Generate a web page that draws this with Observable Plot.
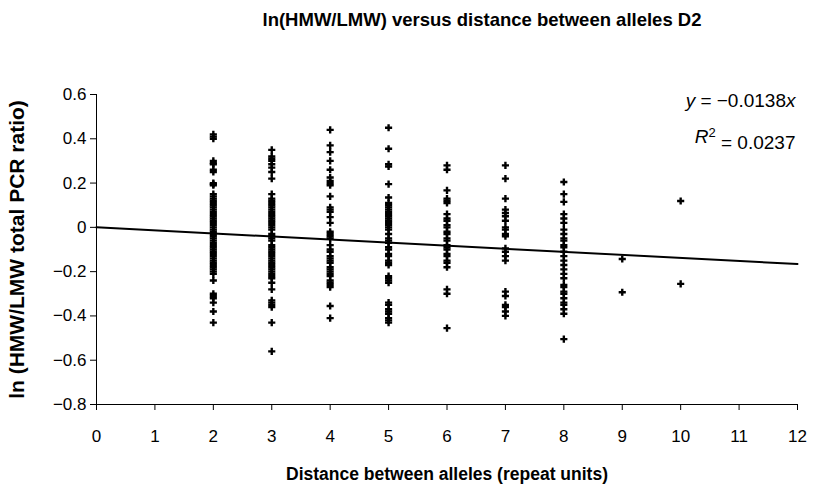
<!DOCTYPE html>
<html>
<head>
<meta charset="utf-8">
<script src="https://cdn.jsdelivr.net/npm/d3@7"></script>
<script src="https://cdn.jsdelivr.net/npm/@observablehq/plot@0.6"></script>
<style>
  body { margin: 0; background: #fff; }
  #chart svg { font-family: "Liberation Sans", Arial, sans-serif; }
  #chart g[aria-label="x-axis label"] text { font-weight: bold; font-size: 17.5px; }
  #chart g[aria-label="y-axis label"] text { font-weight: bold; font-size: 21px; }
  #chart svg text.chart-title { font-size: 18.5px; font-weight: bold; }
  #chart svg text.fit-label { font-size: 19px; }
</style>
</head>
<body>
<div id="chart"></div>
<script>
// ln(HMW/LMW) values grouped by distance between alleles (repeat units)
const dist2 = [0.42, 0.41, 0.40, 0.30, 0.29, 0.285, 0.26, 0.25, 0.20, 0.195, 0.19,
  0.15, 0.14, 0.13, 0.12, 0.11, 0.10, 0.09, 0.08, 0.07, 0.06, 0.05, 0.04, 0.03, 0.02, 0.01, 0.0,
  -0.01, -0.02, -0.03, -0.04, -0.05, -0.06, -0.07, -0.08, -0.09, -0.10, -0.11, -0.12, -0.13,
  -0.14, -0.15, -0.16, -0.17, -0.18, -0.19, -0.20, -0.21, -0.24,
  -0.30, -0.31, -0.32, -0.34, -0.38, -0.43];
const dist3 = [0.35, 0.32, 0.31, 0.30, 0.285, 0.27, 0.25, 0.22,
  0.15, 0.13, 0.12, 0.11, 0.10, 0.09, 0.08, 0.07, 0.06, 0.05, 0.04, 0.03, 0.02, 0.01, 0.0,
  -0.01, -0.03, -0.04, -0.05, -0.06, -0.08, -0.09, -0.10, -0.11, -0.12, -0.13, -0.14, -0.15,
  -0.16, -0.17, -0.18, -0.19, -0.20, -0.21, -0.22, -0.23, -0.25,
  -0.28, -0.33, -0.34, -0.35, -0.36, -0.43, -0.56];
const dist4 = [0.44, 0.37, 0.34, 0.30, 0.26, 0.225, 0.21, 0.20, 0.19, 0.14, 0.09, 0.08, 0.07,
  0.046, 0.02, -0.02, -0.03, -0.04, -0.05,
  -0.08, -0.10, -0.11, -0.13, -0.14, -0.15, -0.16, -0.18, -0.19, -0.20, -0.21, -0.22, -0.24,
  -0.25, -0.26, -0.27, -0.355, -0.41];
const dist5 = [0.45, 0.355, 0.285, 0.275, 0.195, 0.135,
  0.11, 0.10, 0.09, 0.08, 0.07, 0.06, 0.05, 0.04, 0.03, 0.02, 0.01, 0.0, -0.01,
  -0.03, -0.05, -0.06, -0.07, -0.09, -0.10, -0.12, -0.13, -0.15, -0.16, -0.17,
  -0.22, -0.23, -0.24, -0.25,
  -0.34, -0.35, -0.37, -0.38, -0.39, -0.41, -0.42, -0.43];
const dist6 = [0.28, 0.26, 0.167, 0.13, 0.12, 0.11,
  0.06, 0.04, 0.03, 0.01, 0.0, -0.02, -0.03, -0.05, -0.06, -0.08, -0.09, -0.10, -0.12,
  -0.13, -0.15, -0.16, -0.18, -0.28, -0.30, -0.455];
const dist7 = [0.28, 0.22, 0.13, 0.08, 0.065, 0.05, 0.03, 0.0, -0.01, -0.03, -0.04,
  -0.095, -0.11, -0.13, -0.15, -0.29, -0.31, -0.35, -0.36, -0.38, -0.40];
const dist8 = [0.205, 0.15, 0.115, 0.06, 0.04, 0.02,
  -0.01, -0.03, -0.05, -0.06, -0.08, -0.09, -0.11, -0.13, -0.15, -0.17, -0.19, -0.21, -0.23,
  -0.26, -0.27, -0.29, -0.30, -0.32, -0.34, -0.35, -0.37, -0.39, -0.505];
const dist9 = [-0.143, -0.293];
const dist10 = [0.119, -0.255];

const distances = [2, 3, 4, 5, 6, 7, 8, 9, 10];
const seriesByDistance = [dist2, dist3, dist4, dist5, dist6, dist7, dist8, dist9, dist10];

// Trend line through the origin and its fit statistics
const slope = -0.0138;
const rSquared = 0.0237;

const xTicks = [0, 1, 2, 3, 4, 5, 6, 7, 8, 9, 10, 11, 12];
const yTicks = [-0.8, -0.6, -0.4, -0.2, 0, 0.2, 0.4, 0.6];

const title = "ln(HMW/LMW) versus distance between alleles D2";
const xTitle = "Distance between alleles (repeat units)";
const yTitle = "ln (HMW/LMW total PCR ratio)";

const points = distances.flatMap((d, i) => seriesByDistance[i].map(v => ({d, v})));
const trend = [xTicks[0], xTicks[xTicks.length - 1]].map(d => ({d, v: slope * d}));

const fmt = d3.format(".4f");
const yFormat = d => d === 0 ? "0" : d3.format(".1f")(d);
const eqLabel = `y = ${fmt(slope)}x`;
const r2Label = `R2 = ${fmt(rSquared)}`;

const chart = Plot.plot({
  width: 817,
  height: 487,
  marginLeft: 96,
  marginRight: 20,
  marginTop: 94,
  marginBottom: 83,
  style: {fontSize: "17px", color: "#000", background: "#fff", overflow: "visible"},
  x: {domain: [0, 12]},
  y: {domain: [-0.8, 0.6]},
  marks: [
    Plot.axisX({ticks: xTicks, tickSize: 6, tickPadding: 19, tickFormat: d => String(d),
      label: xTitle, labelAnchor: "center", labelArrow: "none", labelOffset: 75}),
    Plot.axisY({ticks: yTicks, tickSize: 6, tickPadding: 4, tickFormat: yFormat,
      label: yTitle, labelAnchor: "center", labelArrow: "none", labelOffset: 87}),
    Plot.ruleX([0], {stroke: "#000", strokeWidth: 1}),
    Plot.ruleY([-0.8], {stroke: "#000", strokeWidth: 1}),
    Plot.line(trend, {x: "d", y: "v", stroke: "#000", strokeWidth: 2}),
    Plot.dot(points, {x: "d", y: "v", symbol: "cross", r: 3, fill: "#000", stroke: null}),
    Plot.text([title], {frameAnchor: "top", dx: 35, dy: -82, fontWeight: "bold", fontSize: 18.5}),
    Plot.text([eqLabel], {frameAnchor: "top-right", textAnchor: "end", dx: -2, dy: -1, fontSize: 19}),
    Plot.text([r2Label], {frameAnchor: "top-right", textAnchor: "end", dx: -2, dy: 35, fontSize: 19})
  ]
});

document.getElementById("chart").appendChild(chart);

const textWith = s => d3.select(chart).selectAll("text").filter(function() { return this.textContent === s; });

textWith(title).classed("chart-title", true);

// Italic variables and superscript exponent in the fit labels
const eq = textWith(eqLabel).classed("fit-label", true);
eq.text(null);
eq.append("tspan").style("font-style", "italic").text("y");
eq.append("tspan").text(" = " + fmt(slope));
eq.append("tspan").style("font-style", "italic").text("x");

const r2 = textWith(r2Label).classed("fit-label", true);
r2.text(null);
r2.append("tspan").style("font-style", "italic").text("R");
r2.append("tspan").attr("dy", "-0.45em").style("font-size", "13px").text("2");
r2.append("tspan").attr("dy", "0.6em").text(" = " + fmt(rSquared));
</script>
</body>
</html>
